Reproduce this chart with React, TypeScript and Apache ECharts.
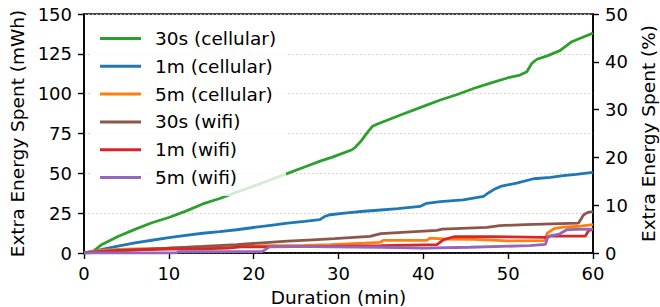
import React, { useEffect, useRef } from "react";
import * as echarts from "echarts";

const seriesNames = [
  "30s (cellular)",
  "1m (cellular)",
  "5m (cellular)",
  "30s (wifi)",
  "1m (wifi)",
  "5m (wifi)",
];
const seriesColors = ["#2ca02c", "#1f77b4", "#ff7f0e", "#8c564b", "#d62728", "#9467bd"];

// 30s (cellular)
const cell30sT = [0, 1.0, 2.0, 4.0, 6.0, 8.0, 10.0, 12.0, 14.0, 16.0, 18.0, 20.0, 22.0, 24.0, 26.0, 28.0, 29.2, 31.6, 32.0, 32.7, 33.5, 34.0, 34.6, 37.0, 40.0, 42.0, 44.0, 46.0, 48.0, 50.0, 51.4, 52.2, 52.8, 53.4, 54.6, 56.1, 57.5, 58.5, 60];
const cell30sV = [0, 0.8, 5.0, 10.4, 14.8, 19.0, 22.3, 26.3, 30.8, 34.2, 38.2, 42.0, 46.0, 50.0, 54.0, 58.0, 60.0, 64.8, 66.5, 70.5, 76.3, 79.5, 81.0, 86.0, 92.0, 96.0, 99.5, 103.4, 106.8, 110.0, 111.7, 113.8, 119.1, 121.6, 123.7, 127.0, 132.6, 134.8, 138.0];

// 1m (cellular)
const cell1mT = [0, 2, 4, 6, 8, 10, 12, 14, 16, 18, 20, 22, 24, 26, 27.8, 28.4, 29.0, 31, 33, 35, 37, 39.6, 40.4, 42, 44.7, 47.1, 47.6, 48.3, 49.1, 51.0, 53.0, 55, 56.5, 58, 60];
const cell1mV = [0, 2.1, 4.3, 6.4, 8.0, 9.6, 11.0, 12.4, 13.4, 14.6, 16.0, 17.4, 18.8, 19.9, 20.9, 23.0, 24.0, 25.2, 26.2, 27.0, 27.8, 29.2, 31.2, 32.2, 33.4, 35.5, 37.5, 39.8, 41.8, 43.9, 46.6, 47.5, 48.5, 49.3, 50.6];

// 5m (cellular)
const cell5mT = [0, 1, 2, 4, 6, 10, 14, 18, 22, 26, 29, 33, 34.9, 35.3, 40.4, 40.8, 42.4, 46, 50.0, 54.3, 54.6, 55.5, 56.5, 58.5, 60];
const cell5mV = [0, 0.8, 1.7, 2.3, 2.6, 3.1, 3.8, 4.3, 4.6, 4.8, 5.2, 6.2, 6.7, 7.9, 7.9, 9.3, 8.8, 8.5, 7.6, 7.8, 12.5, 15.5, 16.3, 16.8, 17.8];

// 30s (wifi)
const wifi30sT = [0, 1, 3, 6, 10, 14, 18, 21, 24, 27, 29.5, 33.7, 35.0, 38, 41.6, 42.2, 47.5, 49.0, 52, 58.3, 58.9, 59.4, 60];
const wifi30sV = [0, 0.3, 1.0, 1.9, 3.1, 4.1, 5.2, 6.4, 7.4, 8.3, 9.0, 10.4, 12.2, 13.1, 14.2, 15.0, 16.1, 17.2, 17.8, 18.8, 24.0, 25.5, 26.0];

// 1m (wifi)
const wifi1mT = [0, 1, 2, 5, 10, 14, 17, 18.5, 21, 25, 29, 35, 41.6, 42.4, 43.6, 48, 54.5, 55.0, 59.1, 59.5, 60];
const wifi1mV = [0, 0.5, 1.0, 1.8, 2.5, 2.6, 3.1, 3.8, 3.8, 4.0, 4.2, 4.6, 5.2, 8.4, 10.2, 10.2, 9.8, 10.6, 10.6, 14.2, 14.6];

// 5m (wifi)
const wifi5mT = [0, 10.8, 11.2, 21.0, 21.9, 25, 29, 35, 40, 45.5, 52.5, 54.4, 54.7, 56.0, 56.9, 58, 60];
const wifi5mV = [0, 0, 0.8, 0.9, 4.0, 4.1, 3.9, 3.6, 3.1, 3.6, 4.6, 5.4, 10.5, 11.8, 14.6, 14.8, 15.0];

const seriesTimes = [cell30sT, cell1mT, cell5mT, wifi30sT, wifi1mT, wifi5mT];
const seriesValues = [cell30sV, cell1mV, cell5mV, wifi30sV, wifi1mV, wifi5mV];

const FONT = "DejaVu Sans";

export default function App() {
  const ref = useRef<HTMLDivElement>(null);
  useEffect(() => {
    if (!ref.current) return;
    const chart = echarts.init(ref.current, undefined, { renderer: "svg" });
    const axisLine = { show: true, lineStyle: { color: "#000", width: 1.6 } };
    const axisTick = { show: true, length: 6, inside: false, lineStyle: { color: "#000", width: 1.4 } };
    const axisLabelBase = { color: "#000", fontSize: 18, fontFamily: FONT };
    const nameStyle = { color: "#000", fontSize: 18.5, fontFamily: FONT };
    chart.setOption({
      animation: false,
      textStyle: { fontFamily: FONT },
      grid: {
        left: 84,
        right: 67,
        top: 14,
        bottom: 54,
        containLabel: false,
        outerBoundsMode: "none",
        show: true,
        borderColor: "#000",
        borderWidth: 1.6,
        backgroundColor: "transparent",
      },
      legend: {
        orient: "vertical",
        left: 92,
        top: 20,
        icon: "rect",
        itemWidth: 41,
        itemHeight: 3,
        itemGap: 8.8,
        padding: [9, 10, 9, 8],
        backgroundColor: "rgba(255,255,255,0.8)",
        borderWidth: 0,
        selectedMode: false,
        textStyle: { fontSize: 18.5, color: "#000", lineHeight: 18, fontFamily: FONT, padding: [0, 0, 0, 9] },
        data: seriesNames,
      },
      xAxis: {
        type: "value",
        min: 0,
        max: 60,
        interval: 10,
        name: "Duration (min)",
        nameLocation: "middle",
        nameGap: 35,
        nameTextStyle: nameStyle,
        axisLine,
        axisTick,
        axisLabel: { ...axisLabelBase, margin: 11 },
        splitLine: { show: false },
      },
      yAxis: [
        {
          type: "value",
          min: 0,
          max: 150,
          interval: 25,
          position: "left",
          name: "Extra Energy Spent (mWh)",
          nameLocation: "middle",
          nameRotate: 90,
          nameGap: 53,
          nameTextStyle: nameStyle,
          axisLine,
          axisTick,
          axisLabel: { ...axisLabelBase, margin: 12 },
          splitLine: { show: true, lineStyle: { color: "#c8c8c8", width: 1.2, type: [1.5, 2.5] } },
        },
        {
          type: "value",
          min: 0,
          max: 50,
          interval: 10,
          position: "right",
          name: "Extra Energy Spent (%)",
          nameLocation: "middle",
          nameRotate: 90,
          nameGap: 40,
          nameTextStyle: nameStyle,
          axisLine,
          axisTick,
          axisLabel: { ...axisLabelBase, margin: 12 },
          splitLine: { show: false },
        },
      ],
      series: seriesNames.map((name, i) => ({
        name,
        type: "line",
        yAxisIndex: 0,
        showSymbol: false,
        symbol: "none",
        color: seriesColors[i],
        lineStyle: { color: seriesColors[i], width: 2.8 },
        data: seriesTimes[i].map((t, j) => [t, seriesValues[i][j]]),
      })),
    });
    return () => chart.dispose();
  }, []);
  return (
    <div
      ref={ref}
      style={{ position: "fixed", left: 0, top: 0, width: 660, height: 307, background: "#fff" }}
    />
  );
}
